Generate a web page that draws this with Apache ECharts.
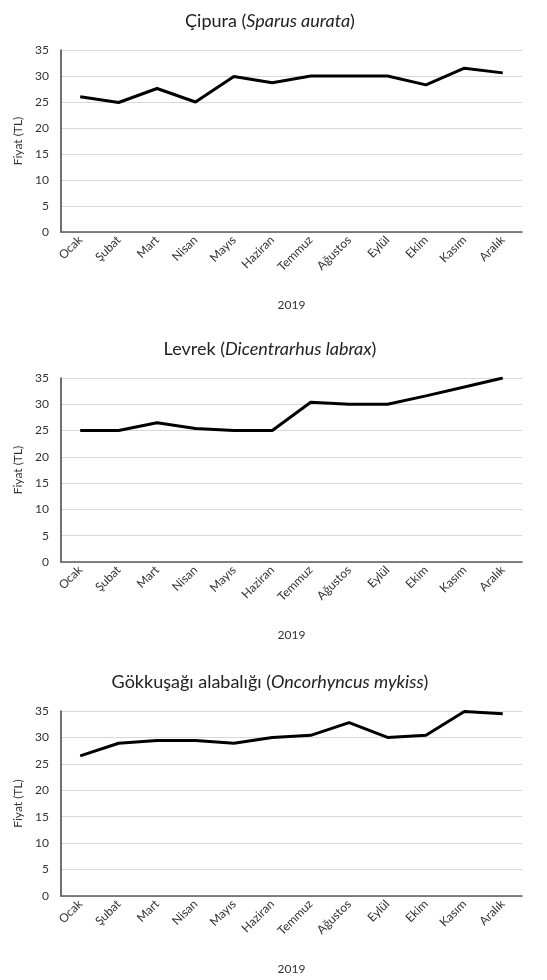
<!DOCTYPE html>
<html>
<head>
<meta charset="utf-8">
<script src="https://cdn.jsdelivr.net/npm/echarts@6/dist/echarts.min.js"></script>
<style>
  html, body { margin: 0; padding: 0; background: #fff; }
  #chart { width: 547px; height: 980px; }
</style>
</head>
<body>
<div id="chart"></div>
<script>
// aylar (2019)
const months = ['Ocak', 'Şubat', 'Mart', 'Nisan', 'Mayıs', 'Haziran', 'Temmuz', 'Ağustos', 'Eylül', 'Ekim', 'Kasım', 'Aralık']

// fiyatlar (TL)
const cipura = [26.0, 24.9, 27.6, 25.0, 29.9, 28.7, 30.0, 30.0, 30.0, 28.3, 31.5, 30.6]
const levrek = [25.0, 25.0, 26.5, 25.4, 25.0, 25.0, 30.4, 30.0, 30.0, 31.6, 33.3, 35.0]
const alabalik = [26.5, 28.9, 29.4, 29.4, 28.9, 30.0, 30.4, 32.8, 30.0, 30.4, 34.9, 34.5]

const yTicks = [0, 5, 10, 15, 20, 25, 30, 35]

const panels = [
  { common: 'Çipura', latin: 'Sparus aurata', data: cipura, top: 50, height: 182, titleY: 7 },
  { common: 'Levrek', latin: 'Dicentrarhus labrax', data: levrek, top: 378, height: 184, titleY: 335 },
  { common: 'Gökkuşağı alabalığı', latin: 'Oncorhyncus mykiss', data: alabalik, top: 711, height: 185, titleY: 668 }
]

const font = 'Lato, "Open Sans", sans-serif'
const textColor = '#333'

const chart = echarts.init(document.getElementById('chart'))

const option = {
  backgroundColor: '#fff',
  animation: false,
  title: panels.map(p => ({
    text: '{n|' + p.common + ' (}{i|' + p.latin + '}{n|)}',
    left: 265,
    top: p.titleY,
    textAlign: 'center',
    textStyle: {
      fontWeight: 'normal',
      rich: {
        n: { fontFamily: font, fontSize: 18, fontWeight: 'normal', color: '#222' },
        i: { fontFamily: font, fontSize: 18, fontWeight: 'normal', fontStyle: 'italic', color: '#222' }
      }
    }
  })),
  grid: panels.map(p => ({
    left: 61,
    right: 25,
    top: p.top,
    height: p.height
  })),
  xAxis: panels.map((p, i) => ({
    type: 'category',
    gridIndex: i,
    data: months,
    boundaryGap: true,
    name: '2019',
    nameLocation: 'middle',
    nameGap: 67,
    nameTextStyle: { fontFamily: font, fontSize: 12, color: textColor },
    axisLine: { lineStyle: { color: '#595959', width: 1.5 } },
    axisTick: { show: false },
    axisLabel: { rotate: 45, fontFamily: font, fontSize: 12, color: textColor, margin: 6, interval: 0 }
  })),
  yAxis: panels.map((p, i) => ({
    type: 'value',
    gridIndex: i,
    min: yTicks[0],
    max: yTicks[yTicks.length - 1],
    interval: yTicks[1] - yTicks[0],
    name: 'Fiyat (TL)',
    nameLocation: 'middle',
    nameGap: 37,
    nameTextStyle: { fontFamily: font, fontSize: 12, color: textColor },
    axisLine: { show: true, lineStyle: { color: '#404040', width: 1.5 } },
    axisTick: { show: false },
    axisLabel: { fontFamily: font, fontSize: 12, color: textColor, margin: 12 },
    splitLine: { lineStyle: { color: '#d9d9d9', width: 1 } }
  })),
  series: panels.map((p, i) => ({
    type: 'line',
    xAxisIndex: i,
    yAxisIndex: i,
    data: p.data,
    showSymbol: false,
    lineStyle: { color: '#000', width: 3 },
    itemStyle: { color: '#000' }
  }))
}

chart.setOption(option)
</script>
</body>
</html>
